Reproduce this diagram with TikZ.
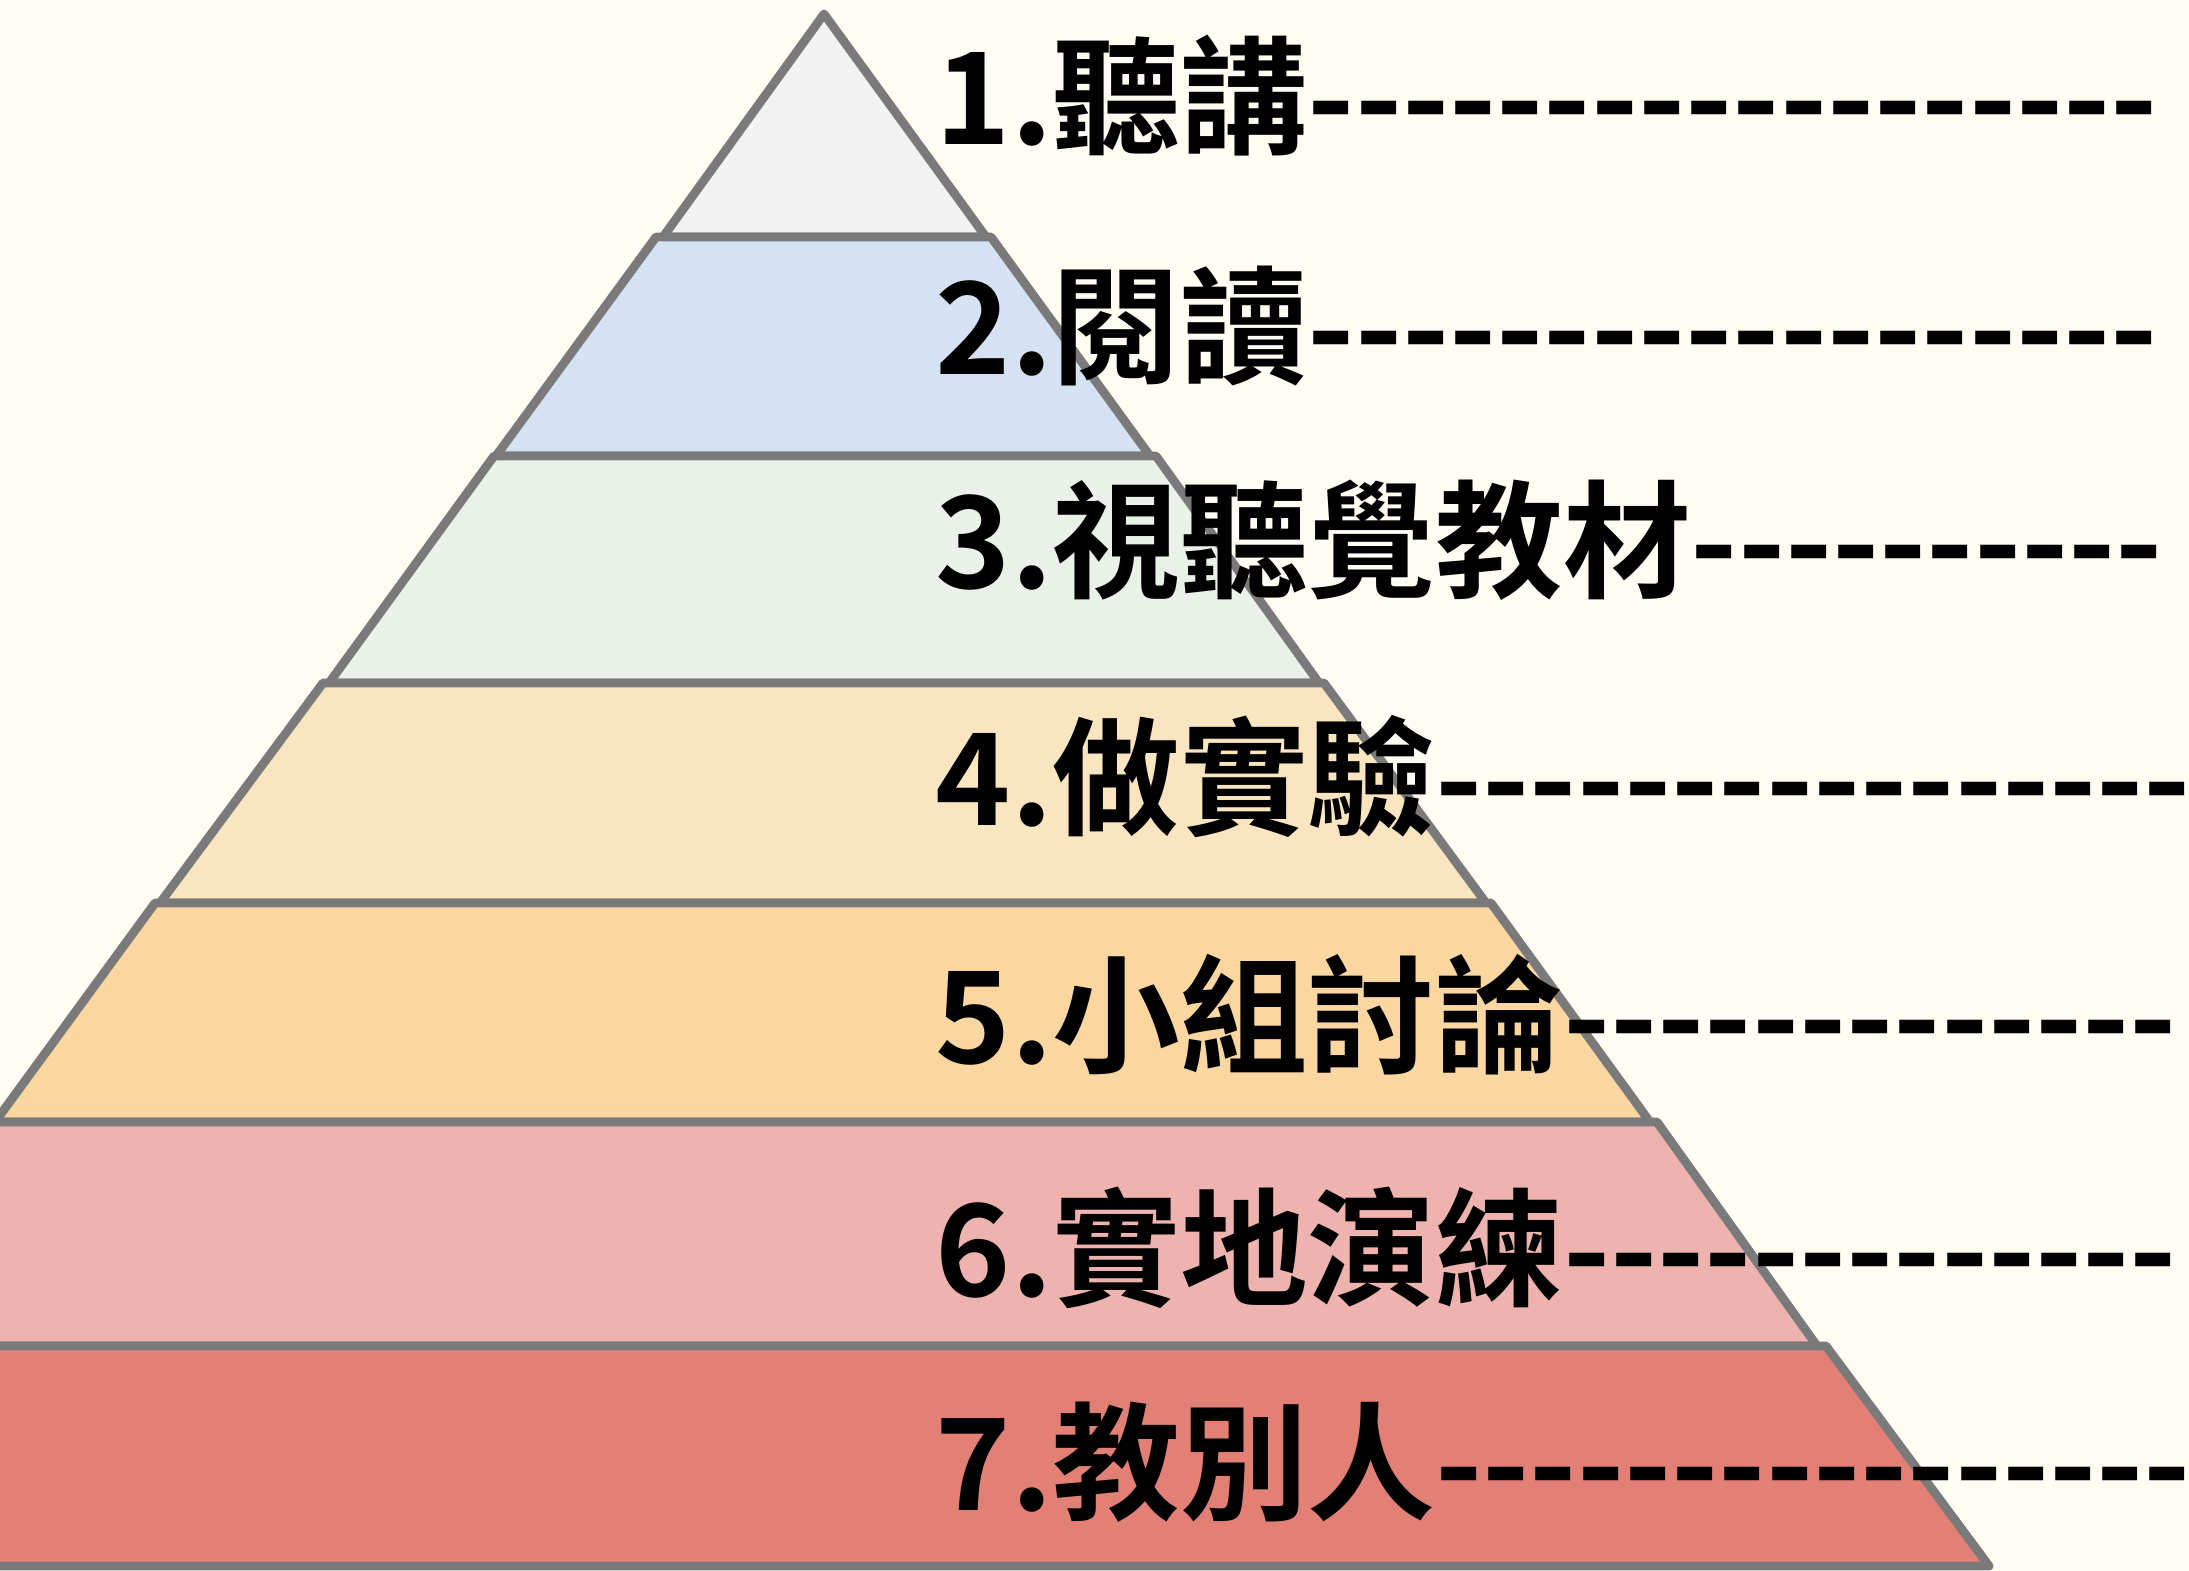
\documentclass[tikz,border=0pt]{standalone}
\usepackage{fontspec}
\usepackage{xcolor}
\usepackage{tikz}
\newfontfamily\cjkbold{Noto Sans CJK TC Bold}[Ligatures=TeXOff]
\definecolor{paper}{HTML}{FEFCF3}
\definecolor{edge}{HTML}{7A7A7A}
\definecolor{tierA}{HTML}{F2F2F2}
\definecolor{tierB}{HTML}{D4E2F3}
\definecolor{tierC}{HTML}{E9F1E9}
\definecolor{tierD}{HTML}{FAE5C1}
\definecolor{tierE}{HTML}{FAD6A0}
\definecolor{tierF}{HTML}{EEB3AE}
\definecolor{tierG}{HTML}{E28075}
\tikzset{
  tier/.style={draw=edge, line width=2.5pt, line join=round},
  tiertext/.style={anchor=base west, inner sep=0pt, text=black,
                   font=\cjkbold\fontsize{36.3pt}{40pt}\selectfont},
}

\begin{document}
\begin{tikzpicture}[x=0.01cm, y=-0.01cm]
\fill[paper] (0,0) rectangle (2189,1571);
\useasboundingbox (0,0) rectangle (2189,1571);
% pyramid tiers, top to bottom
\begin{scope}
\clip (0,0) rectangle (2189,1571);
\foreach \ya/\yb/\xa/\xb/\xc/\xd/\col in {
    14/237/824/824/663/986/tierA,
    237/456/656/991/496/1150/tierB,
    456/683/494/1156/329/1319/tierC,
    683/903/323/1324/160/1486/tierD,
    903/1122/155/1491/-5/1650/tierE,
    1122/1346/-10/1657/-175/1817/tierF,
    1346/1566/-180/1826/-345/1989/tierG}{
  \filldraw[tier, fill=\col] (\xa,\ya) -- (\xb,\ya) -- (\xd,\yb) -- (\xc,\yb) -- cycle;
}
\end{scope}
% labels
\foreach \y/\txt [count=\i] in {
    145/聽講------------------,
    375/閱讀------------------,
    589/視聽覺教材----------,
    826/做實驗----------------,
    1063/小組討論-------------,
    1296/實地演練-------------,
    1510/教別人----------------}{
  \node[tiertext] (lvl\i) at (935,\y) {\i.\txt};
}
\end{tikzpicture}
\end{document}
